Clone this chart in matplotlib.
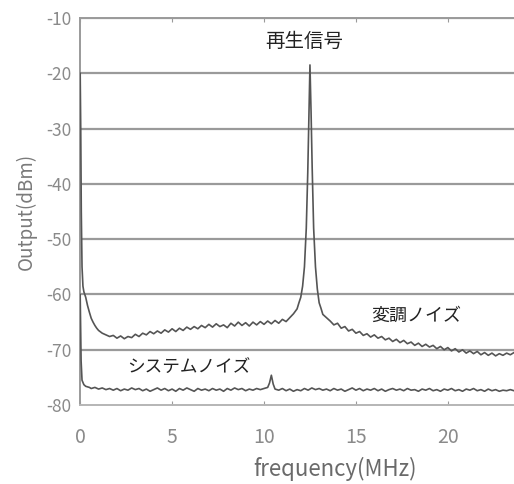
import matplotlib.pyplot as plt

plt.rcParams['font.family'] = ['Noto Sans CJK JP', 'DejaVu Sans']
plt.rcParams['axes.unicode_minus'] = False

# upper trace: reproduced signal + modulation noise
freq_upper = [0.00, 0.03, 0.06, 0.10, 0.15, 0.20, 0.30, 0.40, 0.50, 0.60, 0.70, 0.80, 0.90,
              1.00, 1.20, 1.40, 1.60, 1.80, 2.00, 2.20, 2.40, 2.60, 2.80, 3.00, 3.20, 3.40,
              3.60, 3.80, 4.00, 4.20, 4.40, 4.60, 4.80, 5.00, 5.20, 5.40, 5.60, 5.80, 6.00,
              6.20, 6.40, 6.60, 6.80, 7.00, 7.20, 7.40, 7.60, 7.80, 8.00, 8.20, 8.40, 8.60,
              8.80, 9.00, 9.20, 9.40, 9.60, 9.80, 10.00, 10.20, 10.40, 10.60, 10.80, 11.00,
              11.20, 11.40, 11.60, 11.80, 11.90, 12.00, 12.10, 12.20, 12.30, 12.38, 12.44,
              12.50, 12.56, 12.62, 12.70, 12.80, 12.90, 13.00, 13.10, 13.20, 13.40, 13.60,
              13.80, 14.00, 14.20, 14.40, 14.60, 14.80, 15.00, 15.20, 15.40, 15.60, 15.80,
              16.00, 16.20, 16.40, 16.60, 16.80, 17.00, 17.20, 17.40, 17.60, 17.80, 18.00,
              18.20, 18.40, 18.60, 18.80, 19.00, 19.20, 19.40, 19.60, 19.80, 20.00, 20.20,
              20.40, 20.60, 20.80, 21.00, 21.20, 21.40, 21.60, 21.80, 22.00, 22.20, 22.40,
              22.60, 22.80, 23.00, 23.20, 23.40, 23.60]
level_upper = [-20.0, -30.0, -45.0, -55.0, -58.5, -59.5, -60.5, -62.0, -63.2, -64.3, -65.0,
               -65.6, -66.1, -66.5, -67.0, -67.3, -67.6, -67.4, -67.9, -67.5, -68.0, -67.6,
               -67.8, -67.2, -67.6, -67.0, -67.3, -66.7, -67.1, -66.6, -67.0, -66.4, -66.8,
               -66.2, -66.7, -66.1, -66.5, -65.9, -66.3, -65.8, -66.2, -65.6, -66.0, -65.4,
               -65.9, -65.3, -65.8, -65.5, -66.0, -65.2, -65.7, -65.0, -65.6, -65.1, -65.7,
               -65.0, -65.5, -64.9, -65.4, -64.8, -65.3, -64.7, -65.2, -64.5, -64.9, -64.2,
               -63.5, -62.6, -61.5, -60.5, -58.5, -55.0, -48.0, -38.0, -28.0, -18.5, -27.0,
               -37.0, -48.0, -55.0, -59.0, -61.5, -62.5, -63.6, -64.2, -64.8, -65.5, -65.2,
               -66.1, -65.8, -66.6, -66.3, -67.0, -66.7, -67.4, -67.1, -67.7, -67.3, -67.9,
               -67.6, -68.2, -67.9, -68.5, -68.1, -68.7, -68.3, -68.9, -68.6, -69.2, -68.8,
               -69.4, -69.0, -69.5, -69.2, -69.8, -69.4, -70.0, -69.6, -70.2, -69.8, -70.4,
               -70.0, -70.6, -70.2, -70.7, -70.3, -70.9, -70.5, -71.0, -70.6, -71.1, -70.7,
               -71.0, -70.6, -70.9, -70.5]

# lower trace: system noise
freq_lower = [0.00, 0.05, 0.10, 0.20, 0.30, 0.50, 0.60, 0.80, 1.00, 1.20, 1.40, 1.60, 1.80,
              2.00, 2.20, 2.40, 2.60, 2.80, 3.00, 3.20, 3.40, 3.60, 3.80, 4.00, 4.20, 4.40,
              4.60, 4.80, 5.00, 5.20, 5.40, 5.60, 5.80, 6.00, 6.20, 6.40, 6.60, 6.80, 7.00,
              7.20, 7.40, 7.60, 7.80, 8.00, 8.20, 8.40, 8.60, 8.80, 9.00, 9.20, 9.40, 9.60,
              9.80, 10.00, 10.20, 10.30, 10.40, 10.50, 10.60, 10.80, 11.00, 11.20, 11.40,
              11.60, 11.80, 12.00, 12.20, 12.40, 12.60, 12.80, 13.00, 13.20, 13.40, 13.60,
              13.80, 14.00, 14.20, 14.40, 14.60, 14.80, 15.00, 15.20, 15.40, 15.60, 15.80,
              16.00, 16.20, 16.40, 16.60, 16.80, 17.00, 17.20, 17.40, 17.60, 17.80, 18.00,
              18.20, 18.40, 18.60, 18.80, 19.00, 19.20, 19.40, 19.60, 19.80, 20.00, 20.20,
              20.40, 20.60, 20.80, 21.00, 21.20, 21.40, 21.60, 21.80, 22.00, 22.20, 22.40,
              22.60, 22.80, 23.00, 23.20, 23.40, 23.60]
level_lower = [-60.0, -72.0, -75.5, -76.3, -76.6, -76.8, -77.0, -76.8, -77.1, -76.9, -77.2,
               -77.0, -77.3, -77.0, -77.4, -77.1, -77.3, -76.9, -77.2, -77.0, -77.4, -77.1,
               -77.5, -77.2, -76.9, -77.3, -77.0, -77.4, -77.1, -77.5, -77.0, -77.3, -76.9,
               -77.2, -77.5, -77.0, -77.3, -77.1, -77.4, -77.0, -77.3, -77.1, -77.5, -77.0,
               -77.3, -76.9, -77.2, -77.0, -77.4, -77.1, -77.3, -77.0, -77.2, -77.0, -76.8,
               -76.0, -74.6, -76.2, -77.1, -77.3, -77.0, -77.4, -77.1, -77.5, -77.2, -77.4,
               -77.0, -77.3, -76.9, -77.2, -77.0, -77.3, -77.1, -77.4, -77.0, -77.3, -77.1,
               -77.5, -77.2, -76.9, -77.3, -77.0, -77.4, -77.1, -77.3, -77.0, -77.4, -77.1,
               -77.5, -77.2, -77.0, -77.3, -77.1, -77.4, -77.0, -77.3, -77.2, -77.5, -77.1,
               -77.3, -77.0, -77.4, -77.2, -77.5, -77.1, -77.3, -77.0, -77.4, -77.2, -77.5,
               -77.1, -77.3, -77.0, -77.4, -77.2, -77.5, -77.1, -77.4, -77.2, -77.5, -77.3,
               -77.4, -77.2, -77.4]

x_ticks = [0, 5, 10, 15, 20]
y_ticks = [-80, -70, -60, -50, -40, -30, -20, -10]

fig = plt.figure(figsize=(5.14, 4.84), dpi=100)
ax = fig.add_axes([0.156, 0.163, 0.844, 0.8])

for y in y_ticks[1:]:
    ax.axhline(y, color='#9a9a9a', lw=1.6, zorder=1)

ax.plot(freq_lower, level_lower, color='#555555', lw=1.2, zorder=3)
ax.plot(freq_upper, level_upper, color='#555555', lw=1.2, zorder=3)

ax.set_xlim(0, 23.6)
ax.set_ylim(-80, -10)
ax.set_xticks(x_ticks)
ax.set_yticks(y_ticks)
ax.tick_params(axis='both', colors='#9a9a9a', labelcolor='#8a8a8a')
ax.tick_params(axis='x', direction='in', length=3, top=True, pad=16, labelsize=14)
ax.tick_params(axis='y', length=0, pad=6, labelsize=12.5)

for side in ['left', 'top']:
    ax.spines[side].set_color('#9a9a9a')
    ax.spines[side].set_linewidth(1.4)
ax.spines['bottom'].set_color('#b5b5b5')
ax.spines['bottom'].set_linewidth(1.4)
ax.spines['right'].set_visible(False)

ax.set_xlabel('frequency(MHz)', color='#6a6a6a', fontsize=16, va='center')
ax.xaxis.set_label_coords(0.588, -0.165)
ax.set_ylabel('Output(dBm)', color='#7a7a7a', fontsize=13.5, va='center')
ax.yaxis.set_label_coords(-0.124, 0.5)

ax.text(12.2, -14.2, '再生信号', fontsize=14, ha='center', va='center', color='#222222')
ax.text(18.3, -63.8, '変調ノイズ', fontsize=13, ha='center', va='center', color='#222222')
ax.text(5.9, -73.2, 'システムノイズ', fontsize=12.7, ha='center', va='center', color='#222222')

fig.savefig('out.png', dpi=100)
